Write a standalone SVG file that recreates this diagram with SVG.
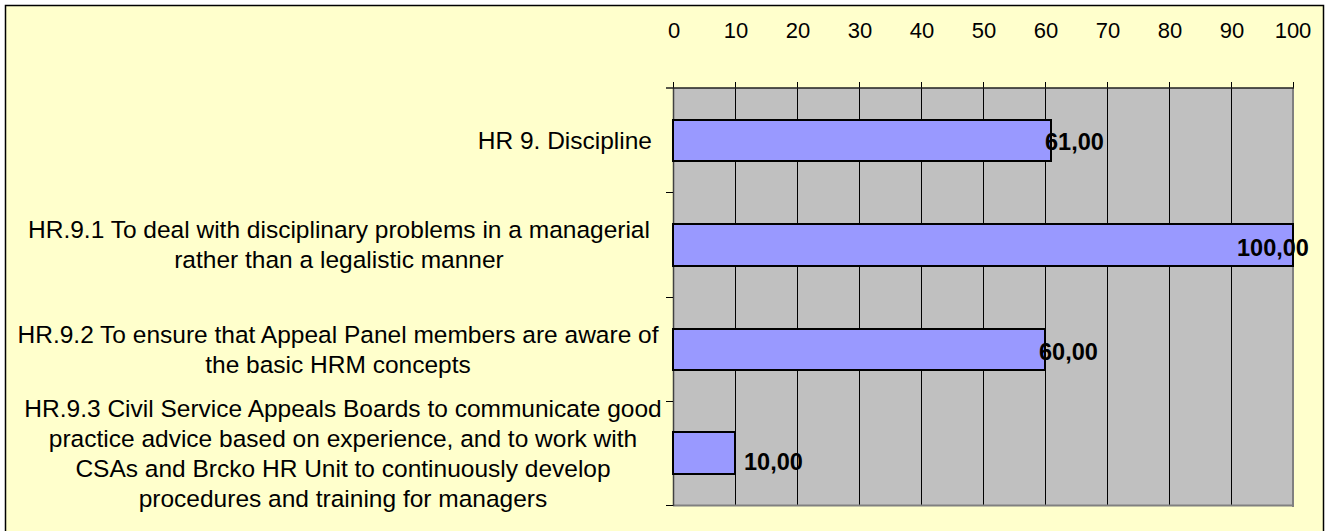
<svg xmlns="http://www.w3.org/2000/svg" width="1325" height="531" viewBox="0 0 1325 531">
<style>
.lbl{font-family:"Liberation Sans",Arial,sans-serif;font-size:24.5px;fill:#000;text-anchor:middle}
.ax{font-family:"Liberation Sans",Arial,sans-serif;font-size:22px;fill:#000;text-anchor:middle}
.val{font-family:"Liberation Sans",Arial,sans-serif;font-size:23.5px;font-weight:bold;fill:#000}
.bar{fill:#9999FF;stroke:#000;stroke-width:2}
.grid{stroke:#000;stroke-width:1}
</style>
<rect x="0" y="0" width="1325" height="531" fill="#fff"/>
<rect x="5.5" y="5.5" width="1318" height="540" fill="#FFFFCC" stroke="#000" stroke-width="1.5"/>
<g id="plot">
<rect x="673" y="88" width="620" height="418" fill="#C0C0C0"/>
<g class="grid">
<line x1="735.5" y1="82" x2="735.5" y2="506"/>
<line x1="797.5" y1="82" x2="797.5" y2="506"/>
<line x1="859.5" y1="82" x2="859.5" y2="506"/>
<line x1="921.5" y1="82" x2="921.5" y2="506"/>
<line x1="983.5" y1="82" x2="983.5" y2="506"/>
<line x1="1045.5" y1="82" x2="1045.5" y2="506"/>
<line x1="1107.5" y1="82" x2="1107.5" y2="506"/>
<line x1="1169.5" y1="82" x2="1169.5" y2="506"/>
<line x1="1231.5" y1="82" x2="1231.5" y2="506"/>
<line x1="1293.5" y1="82" x2="1293.5" y2="88"/>
<line x1="673.5" y1="82" x2="673.5" y2="88"/>
</g>
<line x1="1293" y1="88" x2="1293" y2="507" stroke="#808080" stroke-width="2"/>
<line x1="673" y1="505.5" x2="1294" y2="505.5" stroke="#808080" stroke-width="2"/>
<line x1="673.5" y1="88" x2="673.5" y2="506" stroke="#404040" stroke-width="1.5"/>
<line x1="666" y1="88" x2="1294" y2="88" stroke="#202020" stroke-width="1.5"/>
<g stroke="#000" stroke-width="1">
<line x1="666" y1="192.5" x2="673" y2="192.5"/>
<line x1="666" y1="297.5" x2="673" y2="297.5"/>
<line x1="666" y1="401.5" x2="673" y2="401.5"/>
<line x1="666" y1="505.5" x2="673" y2="505.5"/>
</g>
</g>
<g id="axis-labels" class="ax">
<text x="674" y="38">0</text>
<text x="736" y="38">10</text>
<text x="798" y="38">20</text>
<text x="860" y="38">30</text>
<text x="922" y="38">40</text>
<text x="984" y="38">50</text>
<text x="1046" y="38">60</text>
<text x="1108" y="38">70</text>
<text x="1170" y="38">80</text>
<text x="1232" y="38">90</text>
<text x="1293" y="38">100</text>
</g>
<g id="bar1">
<rect class="bar" x="673" y="120" width="378" height="41"/>
<text class="val" x="1045" y="150">61,00</text>
<text class="lbl" x="652" y="149" style="text-anchor:end">HR 9. Discipline</text>
</g>
<g id="bar2">
<rect class="bar" x="673" y="224" width="620" height="42"/>
<text class="val" x="1237" y="256">100,00</text>
<text class="lbl" x="339" y="238">HR.9.1 To deal with disciplinary problems in a managerial</text>
<text class="lbl" x="339" y="268">rather than a legalistic manner</text>
</g>
<g id="bar3">
<rect class="bar" x="673" y="329" width="372" height="41"/>
<text class="val" x="1039" y="360">60,00</text>
<text class="lbl" x="338" y="343">HR.9.2 To ensure that Appeal Panel members are aware of</text>
<text class="lbl" x="338" y="373">the basic HRM concepts</text>
</g>
<g id="bar4">
<rect class="bar" x="673" y="432" width="62" height="42"/>
<text class="val" x="744" y="470">10,00</text>
<text class="lbl" x="343" y="417">HR.9.3 Civil Service Appeals Boards to communicate good</text>
<text class="lbl" x="343" y="447">practice advice based on experience, and to work with</text>
<text class="lbl" x="343" y="477">CSAs and Brcko HR Unit to continuously develop</text>
<text class="lbl" x="343" y="507">procedures and training for managers</text>
</g>
</svg>
